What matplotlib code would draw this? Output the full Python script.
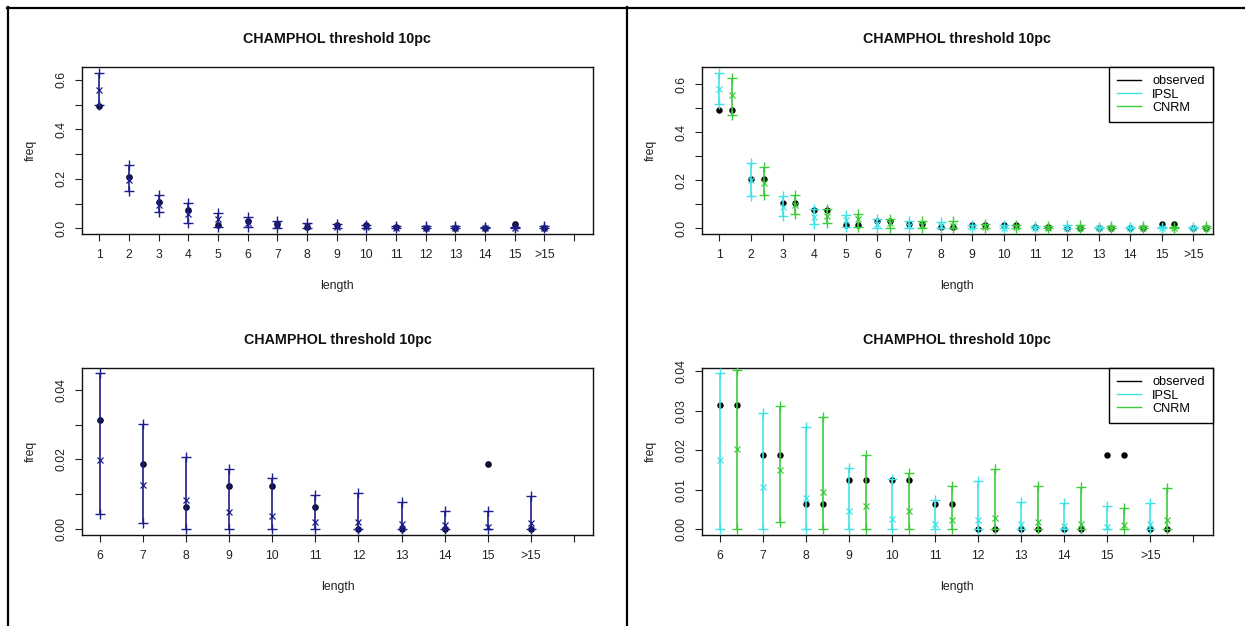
import numpy as np
import matplotlib.pyplot as plt
from matplotlib.lines import Line2D

plt.rcParams['font.family'] = ['Liberation Sans', 'DejaVu Sans']

# categories (run length)
lengths = ['1', '2', '3', '4', '5', '6', '7', '8', '9', '10', '11', '12', '13', '14', '15', '>15']

# observed frequencies
observed = [0.494, 0.206, 0.106, 0.075, 0.0125, 0.0313, 0.0188, 0.0063, 0.0125, 0.0125,
            0.0063, 0.0, 0.0, 0.0, 0.0188, 0.0]

# ensemble (left panels): lower bound, mean, upper bound
ens_low = [0.497, 0.151, 0.065, 0.023, 0.007, 0.0043, 0.0018, 0.0, 0.0, 0.0, 0.0, 0.0, 0.0, 0.0, 0.0, 0.0]
ens_mean = [0.56, 0.195, 0.094, 0.057, 0.036, 0.0199, 0.0127, 0.0083, 0.0048, 0.0038, 0.0021,
            0.0019, 0.0014, 0.0012, 0.0007, 0.0016]
ens_high = [0.627, 0.255, 0.135, 0.104, 0.063, 0.0448, 0.0301, 0.0208, 0.0172, 0.0148, 0.0098,
            0.0104, 0.0079, 0.0052, 0.0052, 0.0096]

# IPSL model
ipsl_low = [0.517, 0.135, 0.053, 0.017, 0.004, 0.0, 0.0, 0.0, 0.0, 0.0, 0.0, 0.0, 0.0, 0.0, 0.0, 0.0]
ipsl_mean = [0.579, 0.201, 0.09, 0.048, 0.035, 0.0176, 0.0107, 0.0078, 0.0046, 0.0025, 0.0014,
             0.0023, 0.0012, 0.0008, 0.0004, 0.0012]
ipsl_high = [0.648, 0.273, 0.135, 0.08, 0.055, 0.0394, 0.0293, 0.0259, 0.0154, 0.0126, 0.0073,
             0.0122, 0.0068, 0.0065, 0.0059, 0.0067]

# CNRM model
cnrm_low = [0.472, 0.139, 0.058, 0.022, 0.007, 0.0, 0.0017, 0.0, 0.0, 0.0, 0.0, 0.0, 0.0, 0.0, 0.0, 0.0]
cnrm_mean = [0.555, 0.1875, 0.095, 0.05, 0.037, 0.0203, 0.0149, 0.0095, 0.0058, 0.0046, 0.0023,
             0.0027, 0.0017, 0.0014, 0.001, 0.0023]
cnrm_high = [0.625, 0.257, 0.14, 0.08, 0.059, 0.0403, 0.0311, 0.0283, 0.0187, 0.0143, 0.011,
             0.0151, 0.0109, 0.0107, 0.0054, 0.0103]

title = 'CHAMPHOL threshold 10pc'
navy = '#1c1c8a'
cyan = '#3fe3e6'
green = '#3ccc3c'

W, H = 1245, 626
fig = plt.figure(figsize=(W / 100, H / 100), dpi=100)


def add_ax(l, t, r, b):
    return fig.add_axes([l / W, 1 - b / H, (r - l) / W, (b - t) / H])


def draw_model(ax, x, low, mean, high, color):
    ax.vlines(x, low, high, color=color, lw=1.2, zorder=3)
    ax.plot(x, low, '+', color=color, ms=6.5, mew=1.0, zorder=3)
    ax.plot(x, high, '+', color=color, ms=6.5, mew=1.0, zorder=3)
    ax.plot(x, mean, 'x', color=color, ms=4.5, mew=0.9, zorder=3)


def style(ax, xlim, xticks, xlabels, ylim, yticks, ylabels):
    ax.set_xlim(xlim)
    ax.set_ylim(ylim)
    ax.set_xticks(xticks, xlabels)
    ax.set_yticks(yticks, ylabels)
    ax.tick_params(axis='both', direction='out', length=5, width=0.8, labelsize=8.8, colors='#222222')
    ax.tick_params(axis='x', pad=6)
    ax.tick_params(axis='y', pad=5, labelrotation=90)
    for t in ax.get_yticklabels():
        t.set_va('center')
    for s in ax.spines.values():
        s.set_linewidth(1.0)
        s.set_color('#111111')
    ax.set_title(title, fontsize=10.3, fontweight='bold', y=1.17, pad=0, va='center', color='#111111')
    ax.set_xlabel('length', fontsize=8.8, color='#222222')
    ax.set_ylabel('freq', fontsize=8.8, color='#222222')
    ax.xaxis.set_label_coords(0.5, -0.31)
    ax.xaxis.label.set_va('center')
    ax.yaxis.set_label_coords(-0.1, 0.5)
    ax.yaxis.label.set_va('center')


def add_legend(ax):
    handles = [Line2D([], [], color='black', lw=1), Line2D([], [], color=cyan, lw=1),
               Line2D([], [], color=green, lw=1)]
    leg = ax.legend(handles, ['observed', 'IPSL', 'CNRM'], loc='upper right', borderaxespad=0,
                    fancybox=False, edgecolor='black', framealpha=1, fontsize=9.2,
                    handlelength=1.9, handletextpad=0.85, labelspacing=0.1, borderpad=0.62)
    leg.get_frame().set_linewidth(1.0)


n = len(lengths)
x_all = np.arange(1, n + 1)
top_yt = [0, 0.1, 0.2, 0.3, 0.4, 0.5, 0.6]
top_yl = ['0.0', '', '0.2', '', '0.4', '', '0.6']

# top left: all lengths, ensemble
ax = add_ax(81.7, 67.3, 593, 234)
ax.plot(x_all, observed, 'o', color='#0d0d30', ms=3.8, zorder=2)
draw_model(ax, x_all, ens_low, ens_mean, ens_high, navy)
style(ax, (0.4, 17.64), list(x_all) + [n + 1], lengths + [''], (-0.023, 0.651), top_yt, top_yl)

# top right: all lengths, IPSL and CNRM
ax = add_ax(701.7, 67.3, 1212.7, 234)
ax.plot(x_all, observed, 'o', color='black', ms=3.6, zorder=2)
ax.plot(x_all + 0.4, observed, 'o', color='black', ms=3.6, zorder=2)
draw_model(ax, x_all, ipsl_low, ipsl_mean, ipsl_high, cyan)
draw_model(ax, x_all + 0.4, cnrm_low, cnrm_mean, cnrm_high, green)
style(ax, (0.44, 16.61), list(x_all), lengths, (-0.024, 0.671), top_yt, top_yl)
add_legend(ax)

# bottom panels: lengths 6 and above
k = 5
x_z = np.arange(1, n - k + 1)

ax = add_ax(81.7, 368.3, 593.3, 535)
ax.plot(x_z, observed[k:], 'o', color='#0d0d30', ms=3.8, zorder=2)
draw_model(ax, x_z, ens_low[k:], ens_mean[k:], ens_high[k:], navy)
style(ax, (0.58, 12.45), list(x_z) + [n - k + 1], lengths[k:] + [''], (-0.00173, 0.0462),
      [0, 0.01, 0.02, 0.03, 0.04], ['0.00', '', '0.02', '', '0.04'])

ax = add_ax(701.7, 368.3, 1212.7, 535)
ax.plot(x_z, observed[k:], 'o', color='black', ms=3.6, zorder=2)
ax.plot(x_z + 0.4, observed[k:], 'o', color='black', ms=3.6, zorder=2)
draw_model(ax, x_z, ipsl_low[k:], ipsl_mean[k:], ipsl_high[k:], cyan)
draw_model(ax, x_z + 0.4, cnrm_low[k:], cnrm_mean[k:], cnrm_high[k:], green)
style(ax, (0.58, 12.45), list(x_z) + [n - k + 1], lengths[k:] + [''], (-0.0015, 0.0407),
      [0, 0.01, 0.02, 0.03, 0.04], ['0.00', '0.01', '0.02', '0.03', '0.04'])
add_legend(ax)

# page frame lines
for x0, y0, x1, y1 in [(7.5, 7, 7.5, 626), (7, 7.5, 1245, 7.5), (627, 7, 627, 626)]:
    fig.add_artist(Line2D([x0 / W, x1 / W], [1 - y0 / H, 1 - y1 / H], transform=fig.transFigure,
                          color='black', lw=1.6))

fig.savefig('out.png', dpi=100)
